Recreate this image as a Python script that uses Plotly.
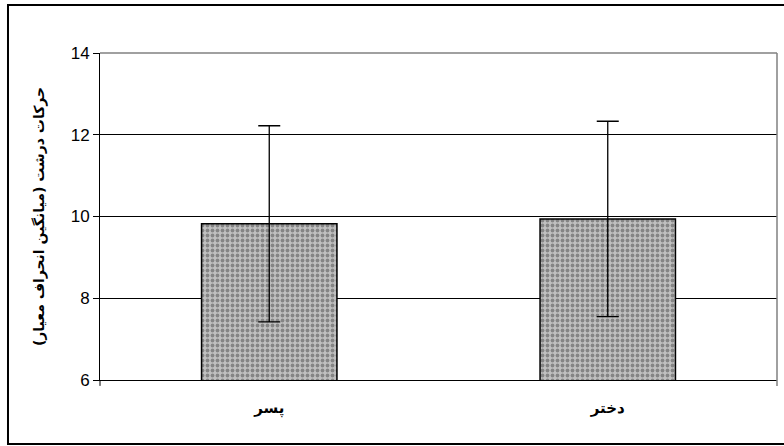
import plotly.graph_objects as go

categories = ["پسر", "دختر"]
means = [9.82, 9.94]
sds = [2.40, 2.39]
y_ticks = [6, 8, 10, 12, 14]
y_title = "حرکات درشت (میانگین انحراف معیار)"

NARROW = "Liberation Sans Narrow, Arial Narrow, Liberation Sans, sans-serif"
ARABIC = "DejaVu Sans, Noto Sans, sans-serif"

fig = go.Figure()
fig.add_trace(go.Bar(
    x=categories,
    y=means,
    base=0,
    marker=dict(
        color="#bcbcbc",
        line=dict(color="black", width=1.5),
        pattern=dict(shape=".", fgcolor="#4a4a4a", bgcolor="#c0c0c0",
                     size=5, solidity=0.45),
    ),
    error_y=dict(type="data", array=sds, visible=True,
                 color="black", thickness=1.3, width=11),
    width=0.4,
    showlegend=False,
    hoverinfo="skip",
))

fig.update_layout(
    width=784, height=446,
    margin=dict(l=100, r=7, t=53, b=66),
    paper_bgcolor="white",
    plot_bgcolor="white",
    font=dict(family=NARROW, color="black"),
    xaxis=dict(
        type="category",
        showline=True, linecolor="black", linewidth=1,
        ticks="", showgrid=False,
        tickfont=dict(family=ARABIC, size=15, color="black", weight="bold"),
        ticklabelstandoff=14,
    ),
    yaxis=dict(
        range=[6, 14],
        tickvals=y_ticks,
        showline=True, linecolor="black", linewidth=1,
        ticks="outside", ticklen=6, tickcolor="black",
        showgrid=True, gridcolor="black", gridwidth=1,
        tickfont=dict(family=NARROW, size=17, color="black"),
        zeroline=False,
        title=dict(text=y_title,
                   font=dict(family=ARABIC, size=14, color="black", weight="bold"),
                   standoff=22),
    ),
    shapes=[
        # outer frame
        dict(type="rect", xref="paper", yref="paper",
             x0=-0.1359, x1=1.06, y0=-0.1957, y1=1.1468,
             line=dict(color="black", width=2), fillcolor="rgba(0,0,0,0)",
             layer="above"),
        # plot area top border (gray)
        dict(type="line", xref="paper", yref="paper",
             x0=0, x1=1, y0=1, y1=1,
             line=dict(color="#808080", width=1.5), layer="above"),
        # plot area right border (gray), extends slightly below axis
        dict(type="line", xref="paper", yref="paper",
             x0=1, x1=1, y0=-0.018, y1=1,
             line=dict(color="#808080", width=1.5), layer="above"),
        # y axis line extension below x axis
        dict(type="line", xref="paper", yref="paper",
             x0=0, x1=0, y0=-0.018, y1=0,
             line=dict(color="black", width=1), layer="above"),
    ],
)

fig.write_html("out.html", config={"displayModeBar": False},
               post_script="document.body.style.margin='0';")
